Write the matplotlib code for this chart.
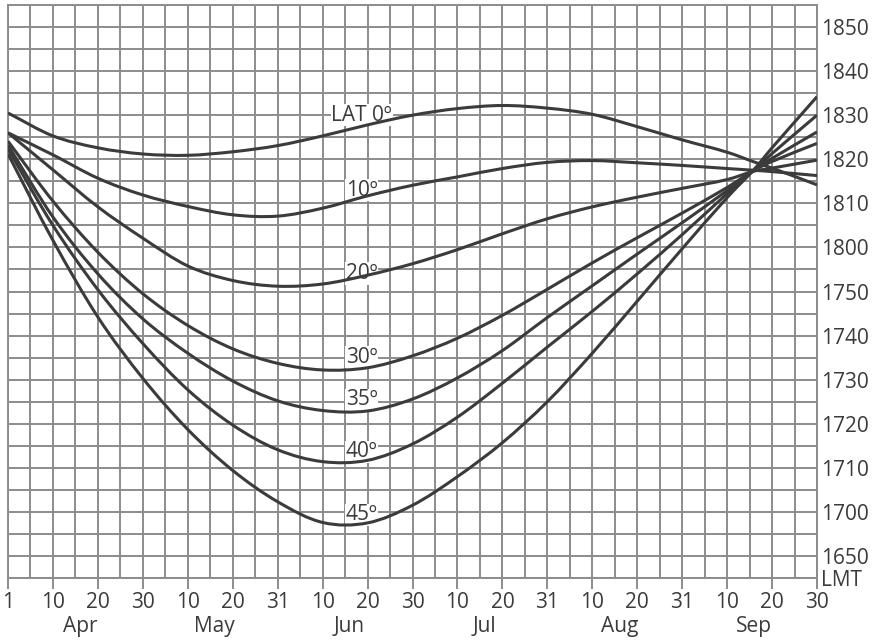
"""Sunset time (LMT) by latitude, April to September."""
import matplotlib
matplotlib.use('Agg')
import matplotlib.pyplot as plt
import matplotlib.transforms as mtransforms
import numpy as np
from matplotlib.patches import PathPatch
from matplotlib.path import Path

plt.rcParams['font.family'] = ['Open Sans', 'DejaVu Sans']

# x axis: one tick per labelled day, evenly spaced
tick_days = ['1', '10', '20', '30', '10', '20', '31', '10', '20', '30',
             '10', '20', '31', '10', '20', '31', '10', '20', '30']
months = ['Apr', 'May', 'Jun', 'Jul', 'Aug', 'Sep']

sample_pos = [0, 1, 2, 3, 4, 5, 6, 7, 8, 9, 10, 11, 12, 13, 14, 15, 16, 16.6, 17, 18]

# sunset, minutes relative to 18:00 LMT
lat0 = [30.5, 25.3, 22.6, 21.2, 20.9, 21.7, 23.1, 25.3, 27.8, 30.0,
        31.5, 32.2, 31.6, 30.2, 27.4, 24.4, 21.6, 19.4, 18.0, 14.2]
lat10 = [26.0, 21.0, 15.7, 11.9, 9.3, 7.4, 7.1, 8.9, 11.7, 14.1,
         16.0, 17.9, 19.3, 19.7, 19.2, 18.6, 17.9, 17.5, 17.2, 16.3]
lat20 = [26.0, 17.6, 9.2, 2.1, -4.2, -7.5, -8.8, -8.3, -6.3, -3.7,
         -0.5, 3.1, 6.5, 9.2, 11.4, 13.4, 15.4, 17.3, 18.0, 19.8]
lat30 = [24.1, 10.5, -1.1, -10.5, -17.7, -23.0, -26.3, -27.8, -27.3, -24.6,
         -20.6, -15.4, -9.5, -3.5, 2.2, 7.8, 13.6, 17.5, 19.5, 23.6]
lat35 = [23.2, 6.9, -6.0, -16.2, -24.0, -30.3, -34.8, -37.0, -37.1, -34.4,
         -29.6, -23.4, -15.9, -8.7, -1.5, 5.6, 12.9, 17.5, 20.2, 26.2]
lat40 = [22.3, 5.0, -9.6, -21.8, -32.3, -40.3, -45.9, -48.6, -48.3, -44.6,
         -38.5, -30.8, -22.6, -14.5, -6.0, 2.9, 12.2, 17.6, 21.3, 30.0]
lat45 = [21.2, 1.6, -15.8, -29.7, -41.3, -50.6, -57.7, -62.4, -62.5, -58.5,
         -52.0, -44.3, -35.0, -24.0, -12.2, -0.3, 11.3, 17.7, 22.6, 34.2]

curves = [lat0, lat10, lat20, lat30, lat35, lat40, lat45]
curve_labels = ['LAT 0º', '10º', '20º', '30º', '35º', '40º', '45º']
label_y = [30.0, 13.0, -5.9, -24.9, -34.6, -46.4, -60.7]   # where each label sits

GRID = '#8c8c8c'
INK = '#3b3b3b'


def smooth_path(xs, ys):
    """Cubic Hermite path through the read points (drawn as Bezier segments)."""
    xs = np.asarray(xs, float)
    ys = np.asarray(ys, float)
    n = len(xs)
    slopes = np.empty(n)
    slopes[0] = (ys[1] - ys[0]) / (xs[1] - xs[0])
    slopes[-1] = (ys[-1] - ys[-2]) / (xs[-1] - xs[-2])
    slopes[1:-1] = (ys[2:] - ys[:-2]) / (xs[2:] - xs[:-2])
    verts = [(xs[0], ys[0])]
    codes = [Path.MOVETO]
    for i in range(n - 1):
        dx = (xs[i + 1] - xs[i]) / 3
        verts += [(xs[i] + dx, ys[i] + dx * slopes[i]),
                  (xs[i + 1] - dx, ys[i + 1] - dx * slopes[i + 1]),
                  (xs[i + 1], ys[i + 1])]
        codes += [Path.CURVE4] * 3
    return Path(verts, codes)


fig = plt.figure(figsize=(8.8, 6.42), dpi=100)
ax = fig.add_axes([8 / 880, 64 / 642, 809 / 880, 573 / 642])

for values in curves:
    ax.add_patch(PathPatch(smooth_path(sample_pos, values), facecolor='none',
                           edgecolor=INK, lw=2.2, zorder=3))

for text, y in zip(curve_labels, label_y):
    ax.text(7.87, y, text, ha='center', va='center', fontsize=15, color=INK,
            zorder=2, bbox=dict(facecolor='white', edgecolor='none', pad=0.5))

ax.set_xlim(0, 18)
ax.set_ylim(-75, 55)

# x ticks
ax.set_xticks(np.arange(len(tick_days)))
ax.set_xticklabels(tick_days)
ax.set_xticks(np.arange(0.5, 18, 0.5), minor=True)
ax.tick_params(axis='x', which='major', length=8, width=1.4, color=GRID,
               labelsize=15, labelcolor=INK, pad=2)
ax.tick_params(axis='x', which='minor', length=0)

# y ticks on the right, HHMM labels
major_y = [-75] + list(range(-70, 51, 10))
y_labels = ['LMT'] + [f'{(1080 + v) // 60}{(1080 + v) % 60:02d}'
                      for v in range(-70, 51, 10)]
ax.yaxis.tick_right()
ax.set_yticks(major_y)
ax.set_yticklabels(y_labels)
ax.set_yticks([v for v in range(-75, 56, 5) if v not in major_y], minor=True)
ax.tick_params(axis='y', which='both', length=0, labelsize=15,
               labelcolor=INK, pad=3)

ax.grid(True, which='both', color=GRID, lw=1.4)
ax.set_axisbelow(True)
for spine in ax.spines.values():
    spine.set_color(GRID)
    spine.set_linewidth(1.4)

# month names under the day labels
trans = mtransforms.blended_transform_factory(ax.transData, ax.transAxes)
for k, name in enumerate(months):
    ax.text(3 * k + 1.6, -0.085, name, transform=trans, ha='center',
            va='center', fontsize=15, color=INK)

fig.savefig('out.png', dpi=100, facecolor='white')
